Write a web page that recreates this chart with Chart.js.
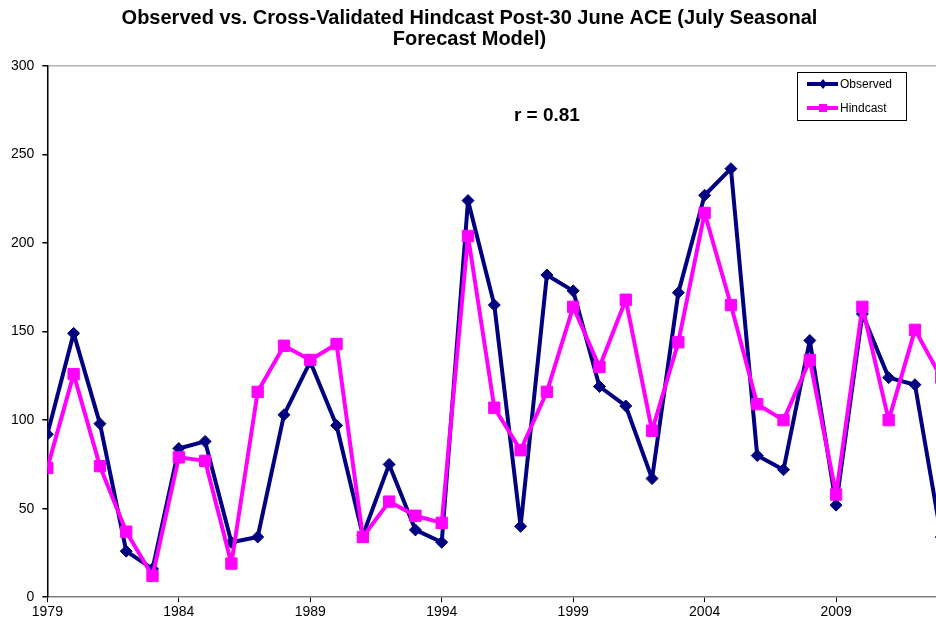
<!DOCTYPE html>
<html>
<head>
<meta charset="utf-8">
<script src="https://cdn.jsdelivr.net/npm/chart.js@4.4.1/dist/chart.umd.min.js"></script>
<style>
html, body { margin: 0; padding: 0; background: #fff; overflow: hidden; }
#wrap { width: 936px; height: 628px; position: relative; }
</style>
</head>
<body>
<div id="wrap"><canvas id="myChart"></canvas></div>
<script>
var years = [1979, 1980, 1981, 1982, 1983, 1984, 1985, 1986, 1987, 1988,
             1989, 1990, 1991, 1992, 1993, 1994, 1995, 1996, 1997, 1998,
             1999, 2000, 2001, 2002, 2003, 2004, 2005, 2006, 2007, 2008,
             2009, 2010, 2011, 2012, 2013]
var observed = [92, 149, 98, 26, 16, 84, 88, 31, 34, 103,
                133, 97, 35, 75, 38, 31, 224, 165, 40, 182,
                173, 119, 108, 67, 172, 227, 242, 80, 72, 145,
                52, 160, 124, 120, 34]
var hindcast = [73, 126, 74, 37, 12, 79, 77, 19, 116, 142,
                134, 143, 34, 54, 46, 42, 204, 107, 83, 116,
                164, 130, 168, 94, 144, 217, 165, 109, 100, 134,
                58, 164, 100, 151, 124]
var xTicks = [1979, 1984, 1989, 1994, 1999, 2004, 2009]
var yTicks = [0, 50, 100, 150, 200, 250, 300]
var titleLines = ["Observed vs. Cross-Validated Hindcast Post-30 June ACE (July Seasonal", "Forecast Model)"]
var corrText = "r = 0.81"

var FONT = "'Liberation Sans', Arial, sans-serif"

function toPoints(vals) {
    var out = []
    for (var i = 0; i < years.length; i++) {
        out.push({ x: years[i], y: vals[i] })
    }
    return out
}

// r value + boxed legend inside the plot
var extras = {
    id: 'extras',
    afterDraw: function(chart) {
        var ctx = chart.ctx
        var xs = chart.scales.x
        var ys = chart.scales.y
        ctx.save()
        ctx.fillStyle = '#000'
        ctx.font = 'bold 19px ' + FONT
        ctx.textAlign = 'center'
        ctx.textBaseline = 'middle'
        ctx.fillText(corrText, xs.getPixelForValue(1998), ys.getPixelForValue(272))

        // legend box
        var bx = 797, by = 72, bw = 109, bh = 48
        ctx.fillStyle = '#fff'
        ctx.fillRect(bx, by, bw, bh)
        ctx.strokeStyle = '#000'
        ctx.lineWidth = 1
        ctx.strokeRect(bx + 0.5, by + 0.5, bw, bh)
        ctx.font = '12px ' + FONT
        ctx.textAlign = 'left'
        chart.data.datasets.forEach(function(ds, i) {
            var ly = by + 12 + i * 24
            ctx.strokeStyle = ds.borderColor
            ctx.lineWidth = 4
            ctx.beginPath()
            ctx.moveTo(bx + 10, ly)
            ctx.lineTo(bx + 41, ly)
            ctx.stroke()
            ctx.fillStyle = ds.borderColor
            if (ds.pointStyle == 'rect') {
                ctx.fillRect(bx + 22, ly - 4, 8, 8)
            } else {
                ctx.beginPath()
                ctx.moveTo(bx + 26, ly - 5)
                ctx.lineTo(bx + 30, ly)
                ctx.lineTo(bx + 26, ly + 5)
                ctx.lineTo(bx + 22, ly)
                ctx.closePath()
                ctx.fill()
            }
            ctx.fillStyle = '#000'
            ctx.fillText(ds.label, bx + 43, ly + 1)
        })
        ctx.restore()
    }
}

var ctx = document.getElementById('myChart').getContext('2d')
var myChart = new Chart(ctx, {
    type: 'line',
    data: {
        datasets: [{
            label: 'Observed',
            data: toPoints(observed),
            borderColor: '#000080',
            backgroundColor: '#000080',
            borderWidth: 4,
            borderJoinStyle: 'round',
            pointStyle: 'rectRot',
            pointRadius: 6,
            pointBorderWidth: 1,
            tension: 0,
            order: 2
        }, {
            label: 'Hindcast',
            data: toPoints(hindcast),
            borderColor: '#FF00FF',
            backgroundColor: '#FF00FF',
            borderWidth: 4,
            borderJoinStyle: 'round',
            pointStyle: 'rect',
            pointRadius: 8,
            pointBorderWidth: 1,
            tension: 0,
            order: 1
        }]
    },
    options: {
        responsive: true,
        maintainAspectRatio: false,
        animation: false,
        layout: { autoPadding: false, padding: { left: 3, right: 0, top: 0, bottom: 5 } },
        scales: {
            x: {
                type: 'linear',
                min: 1979,
                max: 2012.8,
                afterBuildTicks: function(axis) {
                    axis.ticks = xTicks.map(function(v) { return { value: v } })
                },
                ticks: {
                    color: '#000',
                    font: { family: FONT, size: 14 },
                    padding: 2,
                    maxRotation: 0,
                    callback: function(v) { return String(v) }
                },
                grid: {
                    drawOnChartArea: false,
                    color: '#000',
                    tickColor: '#000',
                    tickLength: 5
                },
                border: { color: '#808080', width: 1.5 }
            },
            y: {
                min: 0,
                max: 300,
                afterBuildTicks: function(axis) {
                    axis.ticks = yTicks.map(function(v) { return { value: v } })
                },
                ticks: {
                    color: '#000',
                    font: { family: FONT, size: 14 },
                    padding: 8
                },
                grid: {
                    color: function(c) { return c.tick && c.tick.value == 300 ? '#b4b4b4' : 'rgba(0,0,0,0)' },
                    lineWidth: 1.5,
                    tickColor: '#000',
                    tickLength: 5
                },
                border: { color: '#000', width: 1.5 }
            }
        },
        plugins: {
            legend: { display: false },
            tooltip: { enabled: false },
            title: {
                display: true,
                text: titleLines,
                color: '#000',
                font: { family: FONT, size: 20, weight: 'bold', lineHeight: 1.05 },
                padding: { top: 8, bottom: 16 }
            }
        }
    },
    plugins: [extras]
})
</script>
</body>
</html>
